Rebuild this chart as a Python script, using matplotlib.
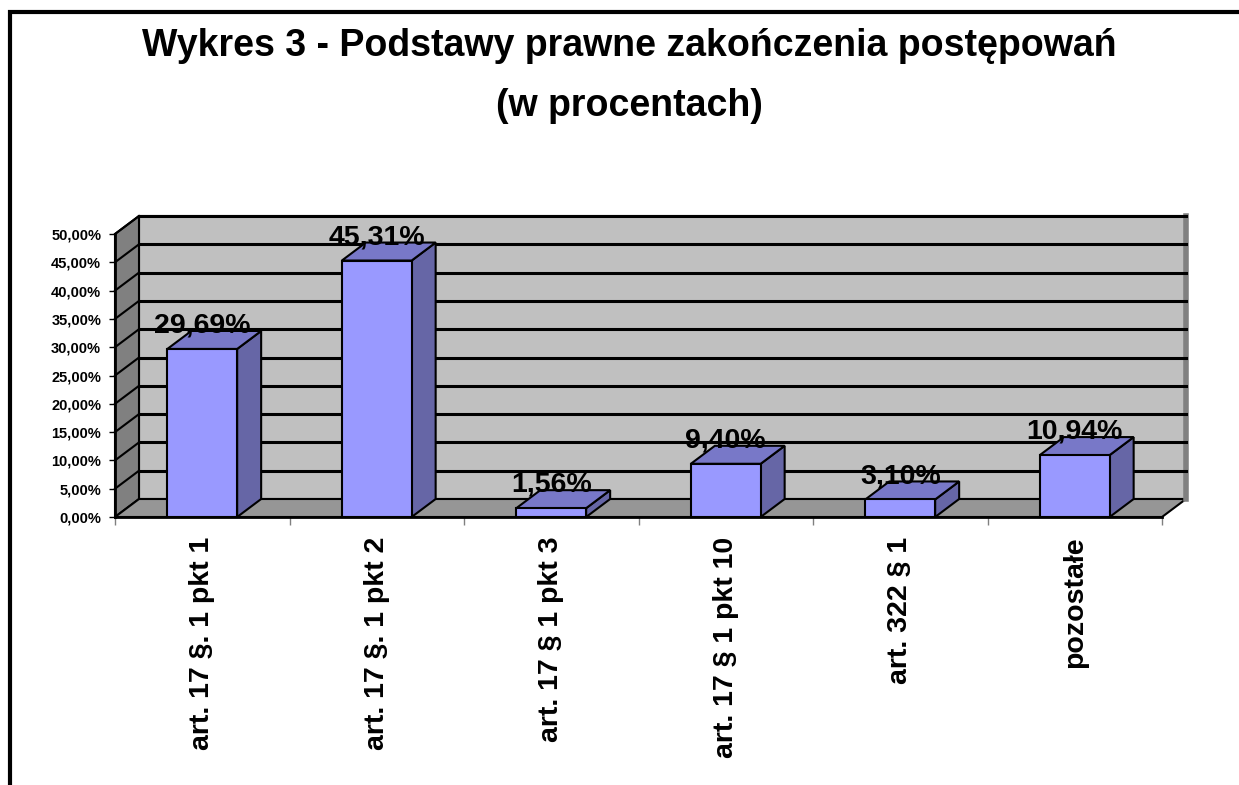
import matplotlib.pyplot as plt
from matplotlib.patches import Polygon, Rectangle

# dane
kategorie = ['art. 17 §. 1 pkt 1', 'art. 17 §. 1 pkt 2', 'art. 17 § 1 pkt 3',
             'art. 17 § 1 pkt 10', 'art. 322 § 1', 'pozostałe']
wartosci = [29.69, 45.31, 1.56, 9.40, 3.10, 10.94]
etykiety = ['29,69%', '45,31%', '1,56%', '9,40%', '3,10%', '10,94%']
y_ticki = [0, 5, 10, 15, 20, 25, 30, 35, 40, 45, 50]

plt.rcParams['font.family'] = ['Liberation Sans', 'DejaVu Sans']
plt.rcParams['font.weight'] = 'bold'

W, H = 1239, 785
fig = plt.figure(figsize=(W / 100, H / 100), dpi=100)

# ramka wykresu
fig.add_artist(Rectangle((10 / W, -0.1), 1.2, (H - 12) / H + 0.1,
                         transform=fig.transFigure, fill=False,
                         edgecolor='black', linewidth=3))

fig.text(629 / W, 1 - 46 / H, 'Wykres 3 - Podstawy prawne zakończenia postępowań',
         ha='center', va='center', fontsize=27, fontweight='bold')
fig.text(629 / W, 1 - 106 / H, '(w procentach)',
         ha='center', va='center', fontsize=27, fontweight='bold')

x0, x1, y0, y1 = 115, 1162, 517, 234
ax = fig.add_axes([x0 / W, 1 - y0 / H, (x1 - x0) / W, (y0 - y1) / H])
n = len(kategorie)
ax.set_xlim(0, n)
ax.set_ylim(0, 50)

# przesuniecie glebokosci (3D) w jednostkach danych
dx = 24 / ((x1 - x0) / n)
dy = 18 / ((y0 - y1) / 50)

szary_tyl = '#C0C0C0'
szary_bok = '#808080'
szary_dol = '#969696'

# sciana tylna, boczna i podloga
ax.add_patch(Polygon([(dx, dy), (n + dx, dy), (n + dx, 50 + dy), (dx, 50 + dy)],
                     closed=True, facecolor=szary_tyl, edgecolor='black',
                     linewidth=1.5, clip_on=False, zorder=1))
ax.plot([n + dx, n + dx], [dy, 50 + dy], color=szary_bok, linewidth=4,
        clip_on=False, zorder=1.5)
ax.add_patch(Polygon([(0, 0), (dx, dy), (dx, 50 + dy), (0, 50)],
                     closed=True, facecolor=szary_bok, edgecolor='black',
                     linewidth=1.5, clip_on=False, zorder=1))
ax.add_patch(Polygon([(0, 0), (n, 0), (n + dx, dy), (dx, dy)],
                     closed=True, facecolor=szary_dol, edgecolor='black',
                     linewidth=1.5, clip_on=False, zorder=1))

# linie siatki
for v in y_ticki[1:]:
    ax.plot([dx, n + dx], [v + dy, v + dy], color='black', linewidth=2.2,
            clip_on=False, zorder=2)
    ax.plot([0, dx], [v, v + dy], color='black', linewidth=1.5,
            clip_on=False, zorder=2)

# slupki 3D
szer = 0.40
for i, v in enumerate(wartosci):
    xl = i + 0.5 - szer / 2
    xr = i + 0.5 + szer / 2
    ax.add_patch(Polygon([(xr, 0), (xr + dx, dy), (xr + dx, v + dy), (xr, v)],
                         closed=True, facecolor='#6666A6', edgecolor='black',
                         linewidth=1.5, clip_on=False, zorder=3))
    ax.add_patch(Polygon([(xl, v), (xr, v), (xr + dx, v + dy), (xl + dx, v + dy)],
                         closed=True, facecolor='#7878C8', edgecolor='black',
                         linewidth=1.5, clip_on=False, zorder=3))
    ax.add_patch(Rectangle((xl, 0), szer, v, facecolor='#9999FF',
                           edgecolor='black', linewidth=1.5, clip_on=False,
                           zorder=3))
    ax.text(i + 0.5, v + dy - 0.3, etykiety[i], ha='center', va='baseline',
            fontsize=20.5, fontweight='bold', zorder=4)

for s in ['top', 'right']:
    ax.spines[s].set_visible(False)
for s in ['left', 'bottom']:
    ax.spines[s].set_linewidth(2)
    ax.spines[s].set_zorder(5)
ax.set_facecolor('none')

ax.set_yticks(y_ticki)
ax.set_yticklabels([f'{v:.2f}%'.replace('.', ',') for v in y_ticki],
                   fontsize=10.5, fontweight='bold')
ax.tick_params(axis='y', length=4, width=1, pad=6)

ax.set_xticks(range(n + 1))
ax.set_xticklabels([])
ax.tick_params(axis='x', which='major', length=6, width=1, color='#808080')
ax.set_xticks([i + 0.5 for i in range(n)], minor=True)
ax.set_xticklabels(kategorie, minor=True, rotation=90, fontsize=20.5,
                   fontweight='bold')
ax.tick_params(axis='x', which='minor', length=0, pad=14)

fig.savefig('out.png', dpi=100)
